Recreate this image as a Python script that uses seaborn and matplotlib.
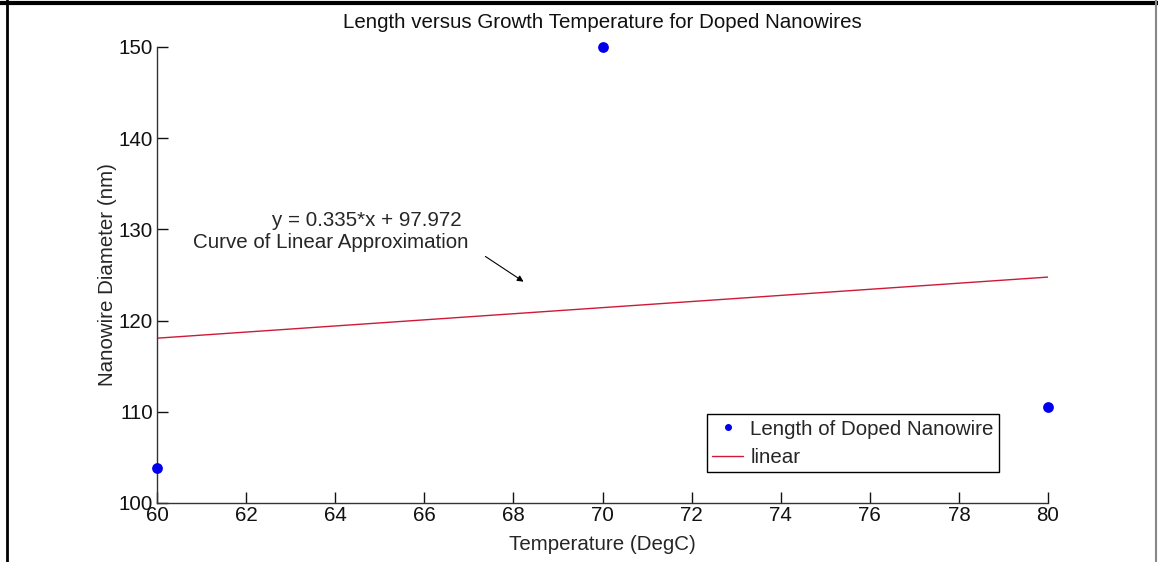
import matplotlib
matplotlib.use("Agg")
import matplotlib.pyplot as plt
import seaborn as sns
import numpy as np
import pandas as pd
from matplotlib.lines import Line2D

temperature = [60, 70, 80]
diameter = [103.8, 150.0, 110.5]
fit_x = [60, 80]
fit_slope = 0.335
fit_intercept = 97.972
fit_y = [fit_slope * x + fit_intercept for x in fit_x]
x_ticks = [60, 62, 64, 66, 68, 70, 72, 74, 76, 78, 80]
y_ticks = [100, 110, 120, 130, 140, 150]

sns.set_style("white")
plt.rcParams['font.family'] = ['Liberation Sans', 'DejaVu Sans']

FS = 14.8
fig = plt.figure(figsize=(11.58, 5.62), dpi=100)
ax = fig.add_axes([157/1158, 59/562, 891/1158, 456/562])

pts = pd.DataFrame({"T": temperature, "D": diameter})
line = pd.DataFrame({"T": fit_x, "D": fit_y})

sns.scatterplot(data=pts, x="T", y="D", ax=ax, color="#0000ee", s=60,
                edgecolor="#0000ee", linewidth=0, zorder=3, clip_on=False)
sns.lineplot(data=line, x="T", y="D", ax=ax, color="#d01838", linewidth=1.0)

ax.set_xlim(60, 80)
ax.set_ylim(100, 150)
ax.set_xticks(x_ticks)
ax.set_yticks(y_ticks)
for s in ["top", "right"]:
    ax.spines[s].set_visible(False)
for s in ["left", "bottom"]:
    ax.spines[s].set_color("#333333")
    ax.spines[s].set_linewidth(1.0)
ax.tick_params(direction="in", length=8, width=1, colors="#111111",
               labelsize=FS, pad=3, left=True, bottom=True)
ax.tick_params(axis="x", pad=2)
ax.set_xlabel("Temperature (DegC)", fontsize=FS, labelpad=7)
ax.set_ylabel("Nanowire Diameter (nm)", fontsize=FS, labelpad=1)

fig.text(602/1158, 1 - 22/562, "Length versus Growth Temperature for Doped Nanowires",
         fontsize=FS, ha="center", va="center", color="#111111")

ax.text(272/1158, 1 - 220/562, "y = 0.335*x + 97.972", transform=fig.transFigure,
        fontsize=FS, va="center", ha="left")
ax.text(193/1158, 1 - 243/562, "Curve of Linear Approximation", transform=fig.transFigure,
        fontsize=FS, va="center", ha="left")
ax.annotate("", xy=(68.28, 124.1), xytext=(67.32, 127.2),
            arrowprops=dict(arrowstyle="-|>", color="black", lw=0.8,
                            mutation_scale=9))

handles = [Line2D([], [], marker="o", linestyle="none", color="#0000ee", markersize=4),
           Line2D([], [], color="#d01838", linewidth=1.0)]
leg = ax.legend(handles, ["Length of Doped Nanowire", "linear"], loc="lower right",
                bbox_to_anchor=(0.945, 0.068), fontsize=FS, frameon=True,
                fancybox=False, edgecolor="black", framealpha=1,
                handlelength=1.5, borderpad=0.25, labelspacing=0.45, handletextpad=0.35,
                borderaxespad=0)
leg.get_frame().set_linewidth(1.0)

# figure frame lines
fig.add_artist(Line2D([0, 1], [1 - 3/562, 1 - 3/562], transform=fig.transFigure,
                      color="black", linewidth=3))
fig.add_artist(Line2D([7/1158, 7/1158], [0, 1], transform=fig.transFigure,
                      color="black", linewidth=2))
fig.add_artist(Line2D([1156/1158, 1156/1158], [0, 1], transform=fig.transFigure,
                      color="#888888", linewidth=1.5))

fig.savefig("out.png", dpi=100)
